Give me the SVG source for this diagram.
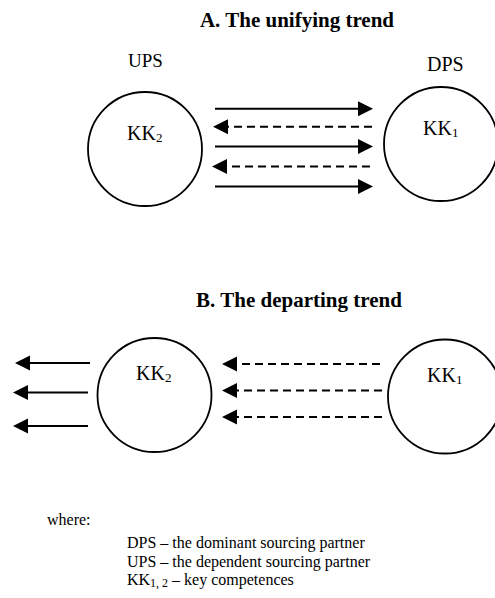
<svg xmlns="http://www.w3.org/2000/svg" width="495" height="598" viewBox="0 0 495 598">
<style>
text{font-family:"Liberation Serif","Times New Roman",serif;fill:#000}
.title{font-weight:bold;font-size:21px;text-anchor:middle}
.lbl{font-size:20px}
.leg{font-size:16px}
.sub{font-size:13px}
.legsub{font-size:12px}
.node circle{fill:#fff;stroke:#000;stroke-width:1.8}
.solid{stroke:#000;stroke-width:2;fill:none}
.dash{stroke:#000;stroke-width:2;fill:none;stroke-dasharray:8 5}
</style>
<defs>
<marker id="ah" markerUnits="userSpaceOnUse" markerWidth="16" markerHeight="16" viewBox="0 0 16 16" refX="0" refY="8" orient="auto">
<path d="M0,0.5 L15,8 L0,15.5 z" fill="#000"/>
</marker>
</defs>
<rect width="495" height="598" fill="#fff"/>
<text class="title" x="297" y="27">A. The unifying trend</text>
<text class="lbl" x="128" y="66.5" style="font-size:19px">UPS</text>
<text class="lbl" x="427" y="70.5">DPS</text>
<g id="a-ups" class="node">
<circle cx="145" cy="149" r="57"/>
<text class="lbl" x="127" y="140">KK<tspan class="sub" dy="2">2</tspan></text>
</g>
<g id="a-dps" class="node">
<circle cx="441" cy="144" r="57"/>
<text class="lbl" x="423" y="135">KK<tspan class="sub" dy="2">1</tspan></text>
</g>
<text class="title" x="299" y="307">B. The departing trend</text>
<g id="b-ups" class="node">
<circle cx="154.5" cy="395" r="57"/>
<text class="lbl" x="136" y="380">KK<tspan class="sub" dy="2">2</tspan></text>
</g>
<g id="b-dps" class="node">
<circle cx="445" cy="396.5" r="57"/>
<text class="lbl" x="427" y="382">KK<tspan class="sub" dy="2">1</tspan></text>
</g>
<g id="connectors">
<line class="solid" x1="215" y1="108.7" x2="358" y2="108.7" marker-end="url(#ah)"/>
<line class="dash" x1="372" y1="126.7" x2="228" y2="126.7" marker-end="url(#ah)"/>
<line class="solid" x1="215" y1="146.5" x2="358" y2="146.5" marker-end="url(#ah)"/>
<line class="dash" x1="370" y1="166.5" x2="227" y2="166.5" marker-end="url(#ah)"/>
<line class="solid" x1="215" y1="186.5" x2="358" y2="186.5" marker-end="url(#ah)"/>
<line class="solid" x1="90" y1="363" x2="30" y2="363" marker-end="url(#ah)"/>
<line class="solid" x1="88" y1="392.5" x2="28" y2="392.5" marker-end="url(#ah)"/>
<line class="solid" x1="88" y1="426" x2="28" y2="426" marker-end="url(#ah)"/>
<line class="dash" x1="380" y1="364" x2="237" y2="364" marker-end="url(#ah)"/>
<line class="dash" x1="382" y1="390.5" x2="237" y2="390.5" marker-end="url(#ah)"/>
<line class="dash" x1="382" y1="417" x2="237" y2="417" marker-end="url(#ah)"/>
</g>
<g id="legend">
<text class="leg" x="47" y="525">where:</text>
<text class="leg" x="127" y="548">DPS – the dominant sourcing partner</text>
<text class="leg" x="127" y="566.5">UPS – the dependent sourcing partner</text>
<text class="leg" x="127" y="585">KK<tspan class="legsub" dy="1.5">1, 2</tspan><tspan dy="-1.5"> – key competences</tspan></text>
</g>
</svg>
